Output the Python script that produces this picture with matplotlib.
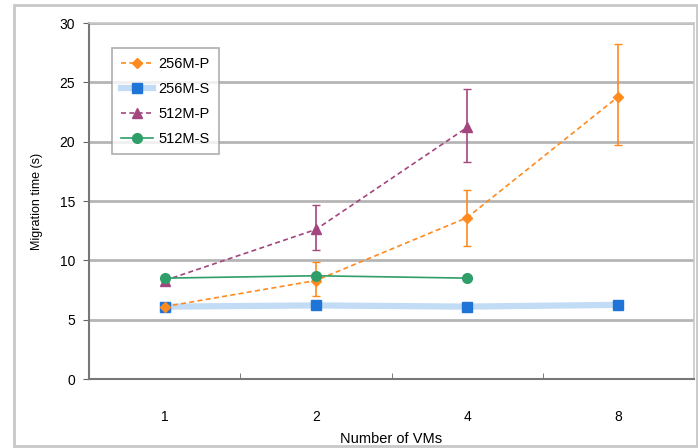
import matplotlib
matplotlib.use("Agg")
from matplotlib import pyplot as plt
from matplotlib.patches import Rectangle
import numpy as np

plt.rcParams["font.family"] = ["Liberation Sans", "DejaVu Sans"]

vms = ["1", "2", "4", "8"]

p256 = [6.1, 8.3, 13.6, 23.8]
p256_err_lo = [0.0, 1.3, 2.4, 4.1]
p256_err_hi = [0.0, 1.6, 2.3, 4.4]

s256 = [6.1, 6.2, 6.1, 6.25]
s256_err = [0.15, 0.2, 0.3, 0.35]

p512 = [8.3, 12.6, 21.2]
p512_err_lo = [0.0, 1.7, 2.9]
p512_err_hi = [0.0, 2.1, 3.2]

s512 = [8.5, 8.7, 8.5]
s512_err = [0.2, 0.3, 0.3]

x = np.arange(len(vms))

fig = plt.figure(figsize=(6.98, 4.48), dpi=100)
ax = fig.add_axes([89 / 698, 69 / 448, 605 / 698, 356 / 448])

# outer chart frame
fig.patches.append(Rectangle((14 / 698, 2 / 448), 683 / 698, 441 / 448,
                             transform=fig.transFigure, fill=False,
                             edgecolor="#c8c8c8", linewidth=2))

ax.errorbar(x, s256, yerr=s256_err, color="#c3dcf5", marker="s", markersize=6.5,
            markerfacecolor="#1f74d8", markeredgecolor="#1f74d8",
            linewidth=4.5, ecolor="#1f74d8", elinewidth=3, capsize=0, zorder=3,
            label="256M-S")
ax.errorbar(x, p256, yerr=[p256_err_lo, p256_err_hi], color="#ff8a1e",
            marker="D", markersize=5.5, linewidth=1.2, linestyle=(0, (3, 2)),
            capsize=3, elinewidth=1.2, zorder=4, label="256M-P")
ax.errorbar(x[:3], p512, yerr=[p512_err_lo, p512_err_hi], color="#a3467f",
            marker="^", markersize=7, linewidth=1.2, linestyle=(0, (3, 2)),
            capsize=3, elinewidth=1.2, zorder=4, label="512M-P")
ax.errorbar(x[:3], s512, yerr=s512_err, color="#2f9e68", marker="o",
            markersize=7, linewidth=1.2, capsize=0, zorder=4, label="512M-S")

ax.set_xlim(-0.5, 3.5)
ax.set_ylim(0, 30)
ax.set_yticks(np.arange(0, 31, 5))
ax.set_xticks(x)
ax.set_xticklabels(vms)
ax.set_xticks(x[:-1] + 0.5, minor=True)
ax.tick_params(axis="x", which="major", length=0, pad=22, labelsize=10)
ax.tick_params(axis="x", which="minor", length=4, direction="in", color="#666666")
ax.tick_params(axis="y", length=4, direction="out", color="#666666", labelsize=10, pad=6)
ax.grid(axis="y", color="#b5b5b5", linewidth=2)
ax.set_axisbelow(True)
for side in ["left", "bottom"]:
    ax.spines[side].set_color("#777777")
    ax.spines[side].set_linewidth(1.5)
for side in ["top", "right"]:
    ax.spines[side].set_color("#c8c8c8")
    ax.spines[side].set_linewidth(1.2)

ax.set_xlabel("Number of VMs", fontsize=10.5, labelpad=6)
ax.set_ylabel("Migration time (s)", fontsize=9, labelpad=12)

# legend shows only line + marker, no error bars
handles, labels = ax.get_legend_handles_labels()
order = [labels.index(n) for n in ["256M-P", "256M-S", "512M-P", "512M-S"]]
leg = ax.legend([handles[i][0] for i in order], [labels[i] for i in order],
                loc="upper left", bbox_to_anchor=(0.026, 0.95), fontsize=10.5,
                frameon=True, fancybox=False, edgecolor="#999999",
                handlelength=2.2, labelspacing=0.75, borderpad=0.6,
                handletextpad=0.4)
leg.get_frame().set_linewidth(1.2)

fig.savefig("out.png", dpi=100)
